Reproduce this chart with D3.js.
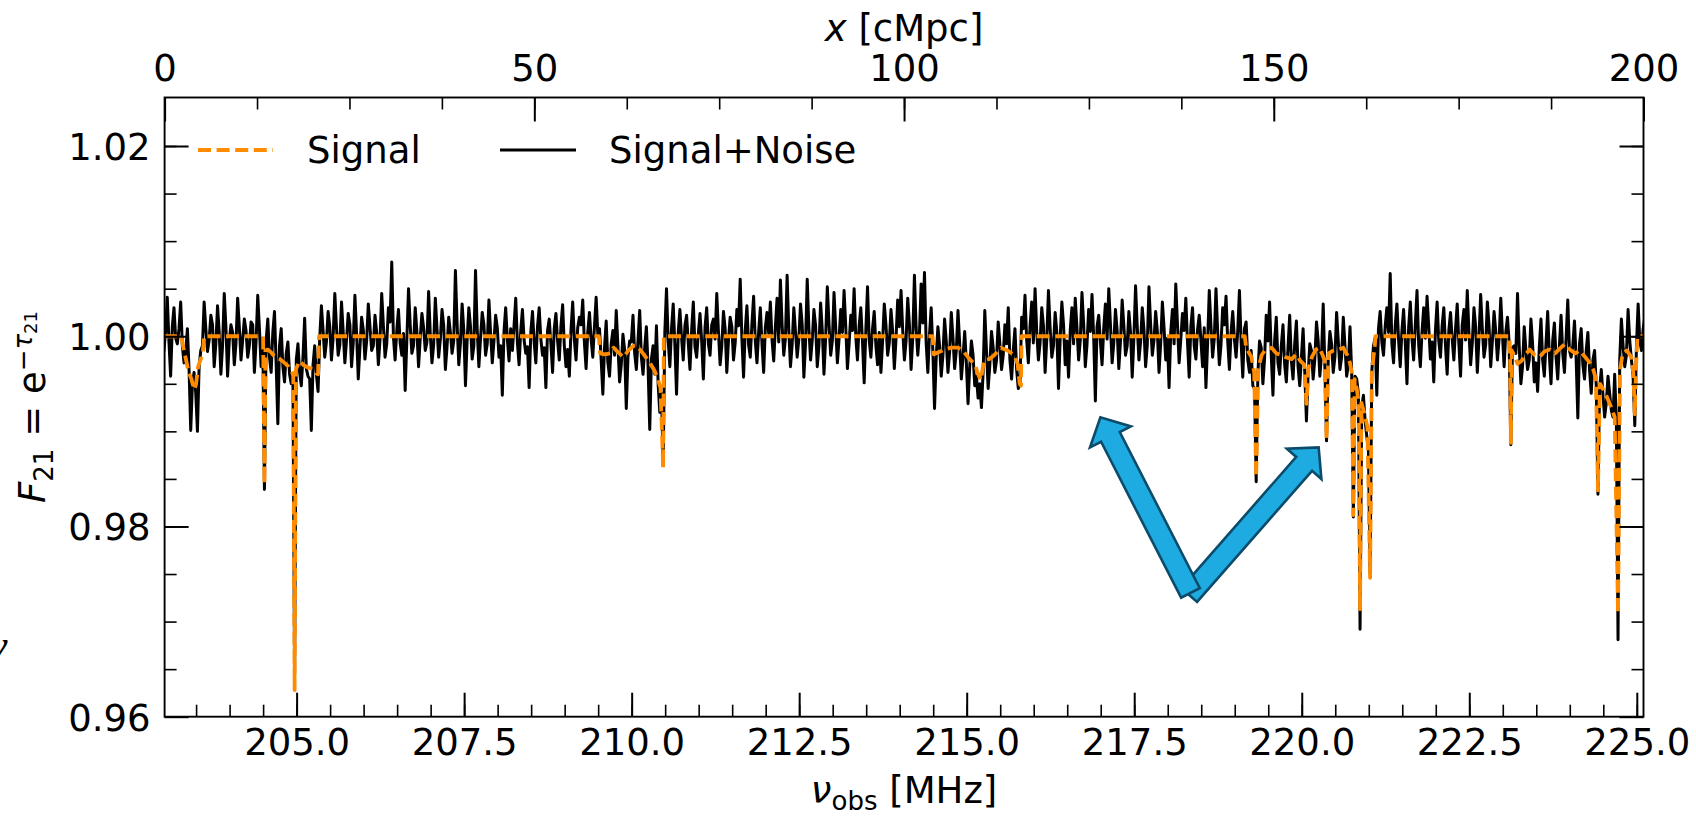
<!DOCTYPE html>
<html><head><meta charset="utf-8">
<script src="https://cdn.jsdelivr.net/npm/d3@7"></script>
<style>
html,body{margin:0;padding:0;background:#fff;}
svg{display:block;}
text{font-family:"DejaVu Sans",sans-serif;fill:#000;}
</style></head><body>
<svg id="chart" width="1696" height="816"></svg>
<script>
// ---------------- data ----------------
const freqStart = 203.02;   // MHz, first sample of the Signal+Noise spectrum
const freqStep = 0.025;     // MHz between samples
const signalNoise = [
0.9984,1.0006,1.0041,0.9994,0.9958,1.0010,1.0030,0.9998,0.9992,1.0008,1.0036,0.9990,0.9972,0.9982,1.0008,0.9965,0.9901,0.9950,0.9962,0.9940,
0.9900,0.9968,0.9985,0.9990,1.0036,1.0008,0.9984,0.9996,1.0022,1.0012,0.9968,0.9992,1.0032,1.0004,0.9960,0.9990,1.0045,1.0010,0.9958,0.9995,
1.0012,1.0004,0.9970,0.9992,1.0040,1.0010,0.9975,0.9996,1.0018,1.0006,0.9978,0.9990,1.0015,1.0012,0.9962,0.9994,1.0043,1.0008,0.9968,0.9998,
0.9839,0.9995,1.0018,0.9978,0.9962,1.0004,1.0026,0.9970,0.9908,0.9990,1.0008,0.9968,0.9952,0.9982,0.9994,0.9960,0.9950,0.9958,0.9645,0.9975,
0.9992,0.9962,0.9948,0.9978,1.0019,0.9966,0.9958,0.9955,0.9901,0.9970,0.9990,0.9960,0.9942,0.9998,1.0032,1.0006,0.9978,0.9994,1.0026,1.0010,
0.9975,0.9998,1.0045,1.0009,0.9980,0.9991,1.0036,1.0005,0.9972,0.9996,1.0024,1.0012,0.9968,0.9993,1.0043,1.0003,0.9955,0.9988,1.0020,1.0007,
0.9976,0.9995,1.0034,1.0010,0.9985,0.9990,1.0022,1.0004,0.9970,0.9997,1.0045,1.0011,0.9978,0.9992,1.0030,1.0015,1.0078,0.9999,0.9975,1.0006,
1.0028,0.9993,0.9980,1.0003,0.9943,0.9996,1.0050,1.0012,0.9982,0.9990,1.0030,1.0005,0.9968,0.9998,1.0024,1.0009,0.9985,0.9994,1.0047,1.0002,
0.9972,0.9991,1.0040,1.0008,0.9978,0.9997,1.0028,1.0011,0.9965,0.9989,1.0020,1.0004,0.9982,0.9995,1.0069,1.0013,0.9970,0.9993,1.0034,1.0006,
0.9948,0.9996,1.0030,1.0010,0.9976,0.9990,1.0069,1.0007,0.9968,0.9998,1.0025,1.0012,0.9980,0.9992,1.0038,1.0003,0.9972,0.9995,1.0022,1.0009,
0.9978,0.9990,0.9938,1.0005,1.0030,0.9997,0.9974,1.0008,0.9985,1.0011,1.0040,0.9993,0.9970,1.0006,1.0028,0.9996,0.9982,0.9989,0.9946,1.0004,
1.0026,0.9994,0.9972,1.0010,1.0030,0.9997,0.9980,0.9988,0.9946,1.0006,1.0018,0.9992,0.9962,1.0008,1.0024,0.9995,0.9975,1.0011,1.0033,0.9990,
0.9968,0.9986,0.9958,1.0007,1.0036,0.9996,0.9975,1.0009,1.0020,1.0012,1.0038,0.9993,0.9966,1.0004,1.0025,0.9997,0.9978,1.0010,1.0041,1.0002,
1.0008,0.9975,0.9939,0.9988,1.0016,0.9972,0.9958,0.9992,1.0006,0.9980,1.0027,0.9990,0.9952,0.9970,1.0002,0.9986,0.9924,0.9978,0.9995,0.9994,
1.0022,0.9982,0.9965,0.9996,1.0027,0.9978,0.9960,0.9988,1.0010,0.9968,0.9902,0.9976,0.9990,0.9960,1.0011,0.9950,0.9920,0.9940,0.9864,1.0004,
1.0050,0.9996,0.9968,1.0008,1.0034,0.9991,0.9939,1.0004,1.0028,0.9998,0.9975,1.0011,1.0022,0.9993,0.9965,1.0006,1.0036,0.9989,0.9978,1.0003,
1.0024,0.9995,0.9955,1.0009,1.0030,0.9992,0.9980,1.0012,1.0018,0.9997,1.0045,1.0005,0.9970,0.9990,1.0026,1.0008,0.9962,0.9996,1.0020,1.0010,
0.9975,0.9993,1.0028,1.0011,1.0060,0.9998,0.9957,1.0006,1.0032,0.9991,0.9978,1.0013,1.0042,0.9995,0.9972,1.0004,1.0030,0.9992,0.9962,1.0009,
1.0025,1.0003,1.0036,0.9996,0.9974,1.0010,1.0040,0.9994,1.0059,1.0012,0.9980,0.9998,1.0064,1.0007,0.9968,0.9991,1.0030,1.0005,0.9978,0.9997,
1.0034,1.0012,0.9957,0.9993,1.0060,1.0008,0.9975,0.9996,1.0028,1.0011,0.9968,0.9990,1.0035,1.0006,0.9960,0.9998,1.0052,1.0013,0.9980,0.9995,
1.0046,1.0009,0.9972,0.9997,1.0028,1.0004,1.0048,1.0010,0.9966,0.9992,1.0022,1.0006,1.0050,0.9999,0.9975,1.0011,1.0030,0.9994,0.9951,1.0007,
1.0052,0.9996,0.9978,1.0008,1.0026,0.9990,0.9970,1.0004,0.9962,0.9995,1.0034,1.0012,0.9980,0.9993,1.0028,1.0005,0.9966,0.9997,1.0038,1.0010,
1.0048,1.0006,0.9975,0.9995,1.0040,1.0012,0.9965,0.9998,1.0064,1.0009,0.9980,1.0004,1.0055,1.0014,1.0067,0.9993,0.9962,1.0002,1.0030,0.9984,
0.9924,0.9978,1.0010,0.9990,0.9958,0.9980,1.0018,0.9995,0.9962,0.9983,1.0025,0.9998,0.9966,0.9985,1.0027,0.9992,0.9955,0.9978,1.0005,0.9972,
0.9929,0.9968,0.9995,0.9980,0.9948,0.9958,0.9935,0.9950,0.9925,0.9962,1.0027,0.9985,0.9945,0.9970,1.0005,0.9988,0.9962,0.9975,1.0015,0.9992,
0.9965,0.9980,1.0012,0.9992,1.0030,0.9975,0.9955,0.9985,1.0008,0.9965,0.9945,0.9952,1.0020,1.0008,1.0043,0.9996,0.9972,1.0010,1.0036,0.9993,
1.0050,1.0005,0.9975,0.9993,1.0030,1.0011,0.9962,0.9997,1.0048,1.0008,0.9978,0.9990,1.0025,1.0004,0.9945,0.9998,1.0036,1.0012,0.9970,0.9995,
0.9957,1.0006,1.0030,0.9992,1.0040,1.0009,0.9975,0.9996,1.0046,1.0013,0.9968,0.9991,1.0028,1.0005,1.0044,0.9999,0.9932,1.0010,1.0022,0.9994,
0.9970,1.0008,1.0034,0.9997,1.0050,1.0012,0.9972,0.9993,1.0028,1.0006,0.9966,0.9995,1.0038,1.0011,0.9980,0.9990,1.0026,1.0004,0.9957,0.9998,
1.0053,1.0010,0.9975,0.9994,1.0030,1.0007,0.9968,0.9991,1.0052,1.0012,0.9980,0.9996,1.0026,1.0005,0.9962,0.9993,1.0036,1.0009,0.9975,0.9998,
0.9946,1.0004,1.0028,0.9992,1.0055,1.0013,0.9972,0.9997,1.0024,1.0006,1.0040,0.9994,0.9957,1.0010,1.0030,0.9990,0.9976,1.0007,1.0022,0.9996,
0.9968,1.0009,0.9946,0.9993,1.0048,1.0011,0.9978,0.9998,1.0050,1.0005,0.9970,0.9991,1.0030,1.0012,1.0042,0.9995,0.9965,1.0004,1.0026,0.9997,
0.9978,1.0006,1.0048,0.9994,0.9957,1.0008,1.0015,0.9975,0.9962,0.9985,0.9948,0.9945,0.9847,0.9960,0.9995,0.9988,0.9950,0.9976,1.0022,0.9995,
1.0036,0.9980,0.9938,0.9995,1.0020,0.9972,0.9960,0.9990,1.0012,0.9970,0.9952,0.9988,1.0022,0.9974,0.9955,0.9992,1.0016,0.9968,0.9948,0.9978,
1.0008,0.9962,0.9911,0.9960,0.9992,0.9985,0.9955,0.9976,1.0015,0.9995,0.9958,0.9980,1.0034,0.9968,0.9890,0.9975,1.0005,0.9992,0.9962,0.9978,
1.0025,0.9995,0.9965,0.9978,1.0020,0.9990,0.9958,0.9970,1.0010,0.9962,0.9810,0.9958,0.9955,0.9940,0.9692,0.9925,0.9938,0.9912,0.9895,0.9880,
0.9750,0.9962,0.9990,0.9998,0.9938,1.0008,1.0026,0.9994,0.9980,1.0010,1.0030,1.0004,1.0066,0.9992,0.9972,1.0011,1.0034,0.9996,0.9968,1.0006,
1.0028,0.9993,0.9950,1.0009,1.0036,0.9997,0.9975,1.0012,1.0048,0.9991,0.9968,1.0005,1.0030,0.9998,1.0042,1.0010,0.9976,0.9994,0.9952,1.0006,
1.0036,0.9995,0.9978,1.0011,1.0030,0.9990,0.9960,1.0006,1.0025,0.9997,0.9975,1.0008,1.0034,0.9992,0.9958,1.0012,1.0028,0.9996,1.0048,1.0004,
0.9970,0.9993,1.0030,1.0010,0.9962,0.9998,1.0044,1.0007,0.9978,0.9991,1.0036,1.0011,0.9968,0.9995,1.0026,1.0005,0.9975,0.9997,1.0040,1.0002,
0.9968,1.0004,1.0020,0.9993,0.9886,0.9988,0.9990,0.9982,1.0045,0.9990,0.9950,0.9968,1.0010,0.9985,0.9965,0.9975,1.0018,0.9992,0.9952,0.9972,
0.9942,0.9988,1.0018,0.9975,0.9958,0.9992,1.0026,0.9980,0.9950,0.9995,1.0014,0.9978,0.9955,0.9990,1.0022,0.9982,0.9962,0.9998,1.0038,0.9985,
0.9978,0.9990,1.0016,0.9976,0.9914,0.9992,1.0008,0.9970,0.9955,0.9985,1.0004,0.9965,0.9940,0.9975,0.9985,0.9948,0.9834,0.9945,0.9965,0.9938,
0.9915,0.9930,0.9958,0.9940,0.9922,0.9915,0.9960,0.9910,0.9681,0.9975,1.0018,0.9990,0.9968,0.9980,1.0028,0.9995,0.9975,0.9958,0.9906,0.9990,
1.0034,0.9995,0.9985,1.0008,1.0020
];

// noiseless signal: [frequency MHz, F21]
const signal = [
[203.02,1.0],[203.28,1.0],[203.31,0.9988],[203.35,0.9975],[203.39,0.9962],[203.43,0.9955],[203.47,0.9944],[203.50,0.9950],[203.53,0.9968],[203.57,0.9976],[203.60,0.9982],[203.62,1.0],
[204.50,1.0],[204.52,0.9845],[204.535,0.9985],[204.57,0.9986],[204.62,0.9983],[204.68,0.9978],[204.75,0.9976],[204.82,0.9972],[204.88,0.9968],[204.95,0.9960],[204.97,0.9628],[204.99,0.9965],[205.04,0.9974],[205.10,0.9970],[205.17,0.9967],[205.24,0.9966],[205.29,0.9961],[205.32,0.9960],[205.335,1.0],
[209.51,1.0],[209.53,0.9982],[209.60,0.9981],[209.68,0.9982],[209.73,0.9988],[209.80,0.9983],[209.88,0.9978],[209.95,0.9985],[210.03,0.9990],[210.08,0.9990],[210.18,0.9981],[210.28,0.9971],[210.34,0.9964],[210.38,0.9957],[210.43,0.9946],[210.47,0.9862],[210.48,1.0],
[214.49,1.0],[214.51,0.9981],[214.57,0.9983],[214.67,0.9986],[214.77,0.9988],[214.87,0.9988],[214.94,0.9985],[215.02,0.9978],[215.07,0.9974],[215.12,0.9971],[215.17,0.9960],[215.21,0.9954],[215.26,0.9975],[215.34,0.9976],[215.41,0.9980],[215.51,0.9988],[215.61,0.9985],[215.71,0.9980],[215.76,0.9971],[215.79,0.9950],[215.81,0.9948],[215.82,1.0],
[219.15,1.0],[219.17,0.9988],[219.25,0.9978],[219.29,0.9962],[219.32,0.9852],[219.35,0.9965],[219.40,0.9980],[219.45,0.9985],[219.55,0.9988],[219.62,0.9982],[219.70,0.9980],[219.76,0.9978],[219.85,0.9976],[219.92,0.9981],[219.98,0.9974],[220.04,0.9970],[220.07,0.9929],[220.10,0.9966],[220.15,0.9978],[220.21,0.9986],[220.26,0.9988],[220.30,0.9982],[220.34,0.9975],[220.37,0.9892],[220.40,0.9982],[220.47,0.9985],[220.55,0.9986],[220.62,0.9988],[220.68,0.9980],[220.72,0.9972],[220.75,0.9960],[220.77,0.9812],[220.79,0.9955],[220.82,0.9945],[220.85,0.9930],[220.87,0.9713],[220.89,0.9930],[220.93,0.9920],[220.98,0.9905],[221.02,0.9746],[221.045,0.9960],[221.07,0.9978],[221.09,0.9990],[221.10,1.0],
[223.10,1.0],[223.11,0.9975],[223.12,0.9888],[223.135,0.9985],[223.17,0.9980],[223.22,0.9971],[223.28,0.9974],[223.33,0.9980],[223.40,0.9986],[223.48,0.9980],[223.55,0.9978],[223.62,0.9984],[223.70,0.9986],[223.78,0.9982],[223.85,0.9987],[223.93,0.9992],[224.00,0.9986],[224.08,0.9982],[224.15,0.9985],[224.23,0.9978],[224.30,0.9972],[224.35,0.9965],[224.39,0.9955],[224.42,0.9838],[224.45,0.9950],[224.50,0.9944],[224.56,0.9935],[224.62,0.9925],[224.67,0.9915],[224.72,0.9708],[224.75,0.9965],[224.79,0.9982],[224.85,0.9985],[224.92,0.9978],[224.95,0.9960],[224.97,0.9918],[224.99,0.9970],[225.01,1.0],[225.12,1.0]
];

const xDomain = [203.03, 225.10];
const yDomain = [0.96, 1.0251];
const topDomain = [0, 200];
const xTickLabels = [205.0, 207.5, 210.0, 212.5, 215.0, 217.5, 220.0, 222.5, 225.0];
const yTickLabels = [0.96, 0.98, 1.00, 1.02];
const topTickLabels = [0, 50, 100, 150, 200];
const seriesNames = ["Signal", "Signal+Noise"];
// annotation arrows: tail and tip in data coordinates [MHz, F21]
const arrowTails = [[218.32, 0.9728], [218.339, 0.97302]];
const arrowTips  = [[220.252, 0.98832], [216.995, 0.99147]];

// ---------------- drawing ----------------
const svg = d3.select("#chart");
const m = {left:164.6, right:1643.5, top:97.5, bottom:716.7};
const x = d3.scaleLinear().domain(xDomain).range([m.left, m.right]);
const xTop = d3.scaleLinear().domain(topDomain).range([m.left, m.right]);
const y = d3.scaleLinear().domain(yDomain).range([m.bottom, m.top]);

svg.append("defs").append("clipPath").attr("id","clip")
  .append("rect").attr("x",m.left).attr("y",m.top)
  .attr("width",m.right-m.left).attr("height",m.bottom-m.top);

const plot = svg.append("g").attr("clip-path","url(#clip)");

const noiseLine = d3.line()
  .x((d,i)=>x(freqStart + i*freqStep))
  .y(d=>y(d));
plot.append("path").datum(signalNoise)
  .attr("d", noiseLine)
  .attr("fill","none").attr("stroke","#000")
  .attr("stroke-width",3.0).attr("stroke-linejoin","round");

const sigLine = d3.line().x(d=>x(d[0])).y(d=>y(d[1]));
plot.append("path").datum(signal)
  .attr("d", sigLine)
  .attr("fill","none").attr("stroke","#ff8c00")
  .attr("stroke-width",3.8).attr("stroke-dasharray","13,5.6")
  .attr("stroke-linejoin","round");

// axes
const MAJ = 24, MIN = 12;
function styleAxis(g, w){
  g.select(".domain").remove();
  g.selectAll(".tick line").attr("stroke","#000").attr("stroke-width",w);
  g.selectAll(".tick text").style("font-family","'DejaVu Sans', sans-serif").style("font-size","37px").attr("fill","#000");
}
const minorX = d3.range(407, 451).map(k=>k/2);
const minorTop = d3.range(0, 17).map(k=>k*12.5);
const minorY = d3.range(193, 205).map(k=>k/200);

let g;
g = svg.append("g").attr("transform",`translate(0,${m.bottom})`)
  .call(d3.axisBottom(x).tickValues(minorX).tickSize(-MIN).tickSizeOuter(0).tickFormat(""));
styleAxis(g,1.6);
g = svg.append("g").attr("transform",`translate(0,${m.bottom})`)
  .call(d3.axisBottom(x).tickValues(xTickLabels).tickSize(-MAJ).tickSizeOuter(0).tickPadding(12).tickFormat(d3.format(".1f")));
styleAxis(g,2);

g = svg.append("g").attr("transform",`translate(0,${m.top})`)
  .call(d3.axisTop(xTop).tickValues(minorTop).tickSize(-MIN).tickSizeOuter(0).tickFormat(""));
styleAxis(g,1.6);
g = svg.append("g").attr("transform",`translate(0,${m.top})`)
  .call(d3.axisTop(xTop).tickValues(topTickLabels).tickSize(-MAJ).tickSizeOuter(0).tickPadding(17).tickFormat(d3.format("d")));
styleAxis(g,2);

g = svg.append("g").attr("transform",`translate(${m.left},0)`)
  .call(d3.axisLeft(y).tickValues(minorY).tickSize(-MIN).tickSizeOuter(0).tickFormat(""));
styleAxis(g,1.6);
g = svg.append("g").attr("transform",`translate(${m.left},0)`)
  .call(d3.axisLeft(y).tickValues(yTickLabels).tickSize(-MAJ).tickSizeOuter(0).tickPadding(14).tickFormat(d3.format(".2f")));
styleAxis(g,2);
g.selectAll(".tick text").attr("dy","0.36em");

g = svg.append("g").attr("transform",`translate(${m.right},0)`)
  .call(d3.axisRight(y).tickValues(minorY).tickSize(-MIN).tickSizeOuter(0).tickFormat(""));
styleAxis(g,1.6);
g = svg.append("g").attr("transform",`translate(${m.right},0)`)
  .call(d3.axisRight(y).tickValues(yTickLabels).tickSize(-MAJ).tickSizeOuter(0).tickFormat(""));
styleAxis(g,2);

svg.append("rect").attr("x",m.left).attr("y",m.top)
  .attr("width",m.right-m.left).attr("height",m.bottom-m.top)
  .attr("fill","none").attr("stroke","#000").attr("stroke-width",1.9);

// axis labels
const xl = svg.append("text").attr("x",(m.left+m.right)/2).attr("y",803)
  .attr("text-anchor","middle").style("font-size","37px");
xl.append("tspan").style("font-style","italic").text("ν");
xl.append("tspan").style("font-size","26px").attr("dy",7).text("obs");
xl.append("tspan").attr("dy",-7).text(" [MHz]");

const tl = svg.append("text").attr("x",(m.left+m.right)/2).attr("y",41)
  .attr("text-anchor","middle").style("font-size","37px");
tl.append("tspan").style("font-style","italic").text("x");
tl.append("tspan").text(" [cMpc]");

const yl = svg.append("text").attr("transform","translate(45,407) rotate(-90)")
  .attr("text-anchor","middle").style("font-size","37px");
yl.append("tspan").style("font-style","italic").text("F");
yl.append("tspan").style("font-size","26px").attr("dy",8).text("21");
yl.append("tspan").attr("dy",-8).text(" = e");
yl.append("tspan").style("font-size","26px").attr("dy",-13).text("−");
yl.append("tspan").style("font-size","26px").style("font-style","italic").text("τ");
yl.append("tspan").style("font-size","18px").attr("dy",5).text("21");

// legend
const lg = svg.append("g");
lg.append("line").attr("x1",198).attr("x2",273).attr("y1",150).attr("y2",150)
  .attr("stroke","#ff8c00").attr("stroke-width",3.8).attr("stroke-dasharray","13,5.6");
lg.append("text").attr("x",307).attr("y",163).style("font-size","37px").text(seriesNames[0]);
lg.append("line").attr("x1",500).attr("x2",576).attr("y1",150).attr("y2",150)
  .attr("stroke","#000").attr("stroke-width",2.8);
lg.append("text").attr("x",609).attr("y",163).style("font-size","37px").text(seriesNames[1]);

// annotation arrows
function arrowPath(t0, t1){
  const dx=t1[0]-t0[0], dy=t1[1]-t0[1], L=Math.hypot(dx,dy);
  const ux=dx/L, uy=dy/L, nx=-uy, ny=ux;
  const sw=10.5, hw=23, hl=22;
  const pts=[[0,-sw],[L-hl,-sw],[L-hl,-hw],[L,0],[L-hl,hw],[L-hl,sw],[0,sw]]
    .map(([a,b])=>[t0[0]+ux*a+nx*b, t0[1]+uy*a+ny*b]);
  return "M"+pts.map(p=>p[0].toFixed(2)+","+p[1].toFixed(2)).join("L")+"Z";
}
arrowTails.forEach((t,k)=>{
  const p0=[x(t[0]),y(t[1])], p1=[x(arrowTips[k][0]),y(arrowTips[k][1])];
  svg.append("path").attr("d",arrowPath(p0,p1))
    .attr("fill","#1eabe1").attr("stroke","#0c4c6a").attr("stroke-width",2.6)
    .attr("stroke-linejoin","miter");
});

// stray glyph cut at the left edge of the reference image
svg.append("text").attr("x",-12).attr("y",660)
  .style("font-family","'Liberation Serif', serif").style("font-style","italic")
  .style("font-size","44px").attr("fill","#333").text("ν");
</script>
</body></html>
